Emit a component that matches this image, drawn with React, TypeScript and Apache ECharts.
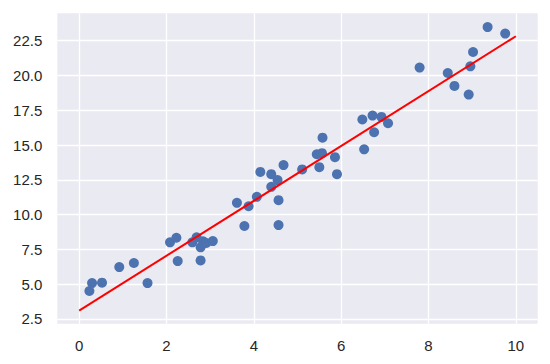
import React, { useEffect, useRef } from "react";
import * as echarts from "echarts";

const xs: number[] = [
  0.235, 0.296, 0.524, 0.919, 1.254, 1.566, 2.081, 2.227, 2.257, 2.592,
  2.69, 2.781, 2.838, 2.911, 3.061, 2.781, 3.613, 3.784, 3.88, 4.069,
  4.149, 4.399, 4.399, 4.543, 4.566, 4.566, 4.68, 5.106, 5.441, 5.573,
  5.562, 5.5, 5.858, 5.904, 6.485, 6.526, 6.718, 6.754, 6.923, 7.073,
  7.796, 8.441, 8.594, 8.92, 8.958, 9.02, 9.353, 9.756,
];
const ys: number[] = [
  4.51, 5.08, 5.11, 6.23, 6.52, 5.08, 8.01, 8.34, 6.66, 8.01,
  8.37, 7.65, 8.08, 7.96, 8.1, 6.71, 10.85, 9.18, 10.6, 11.28,
  13.07, 12.91, 12.0, 12.48, 11.04, 9.25, 13.56, 13.25, 14.34, 15.53,
  14.42, 13.41, 14.13, 12.91, 16.84, 14.69, 17.12, 15.92, 17.02, 16.57,
  20.57, 20.18, 19.25, 18.63, 20.66, 21.69, 23.48, 23.01,
];
const fitX: number[] = [0, 10];
const fitY: number[] = [3.1, 22.82];
const xTicks: number[] = [0, 2, 4, 6, 8, 10];
const yTicks: number[] = [2.5, 5, 7.5, 10, 12.5, 15, 17.5, 20, 22.5];

export default function App() {
  const ref = useRef<HTMLDivElement>(null);
  useEffect(() => {
    if (!ref.current) return;
    const chart = echarts.init(ref.current, null, { renderer: "svg" });
    const font = "'Liberation Sans', Arial, sans-serif";
    chart.setOption({
      animation: false,
      backgroundColor: "#ffffff",
      grid: {
        left: 57.3,
        right: 12.3,
        top: 13.3,
        bottom: 40.3,
        show: true,
        backgroundColor: "#EAEAF2",
        borderWidth: 0,
      },
      xAxis: {
        type: "value",
        min: -0.5,
        max: 10.5,
        axisLine: { show: false },
        axisTick: { show: false, customValues: xTicks },
        splitLine: { show: true, lineStyle: { color: "#ffffff", width: 1.3 } },
        axisLabel: {
          customValues: xTicks,
          color: "#262626",
          fontSize: 15,
          fontFamily: font,
          margin: 14,
          formatter: (v: number) => String(v),
        },
      },
      yAxis: {
        type: "value",
        min: 2.16,
        max: 24.47,
        axisLine: { show: false },
        axisTick: { show: false, customValues: yTicks },
        splitLine: { show: true, lineStyle: { color: "#ffffff", width: 1.3 } },
        axisLabel: {
          customValues: yTicks,
          color: "#262626",
          fontSize: 15,
          fontFamily: font,
          margin: 15,
          formatter: (v: number) => v.toFixed(1),
        },
      },
      series: [
        {
          type: "scatter",
          data: xs.map((x, i) => [x, ys[i]]),
          symbolSize: 10,
          itemStyle: { color: "#4C72B0", opacity: 1 },
          z: 2,
        },
        {
          type: "line",
          data: fitX.map((x, i) => [x, fitY[i]]),
          showSymbol: false,
          symbol: "none",
          lineStyle: { color: "#FF0000", width: 2 },
          z: 3,
        },
      ],
    });
    return () => chart.dispose();
  }, []);
  return (
    <div
      ref={ref}
      style={{ position: "fixed", left: 0, top: 0, width: 550, height: 364 }}
    />
  );
}
